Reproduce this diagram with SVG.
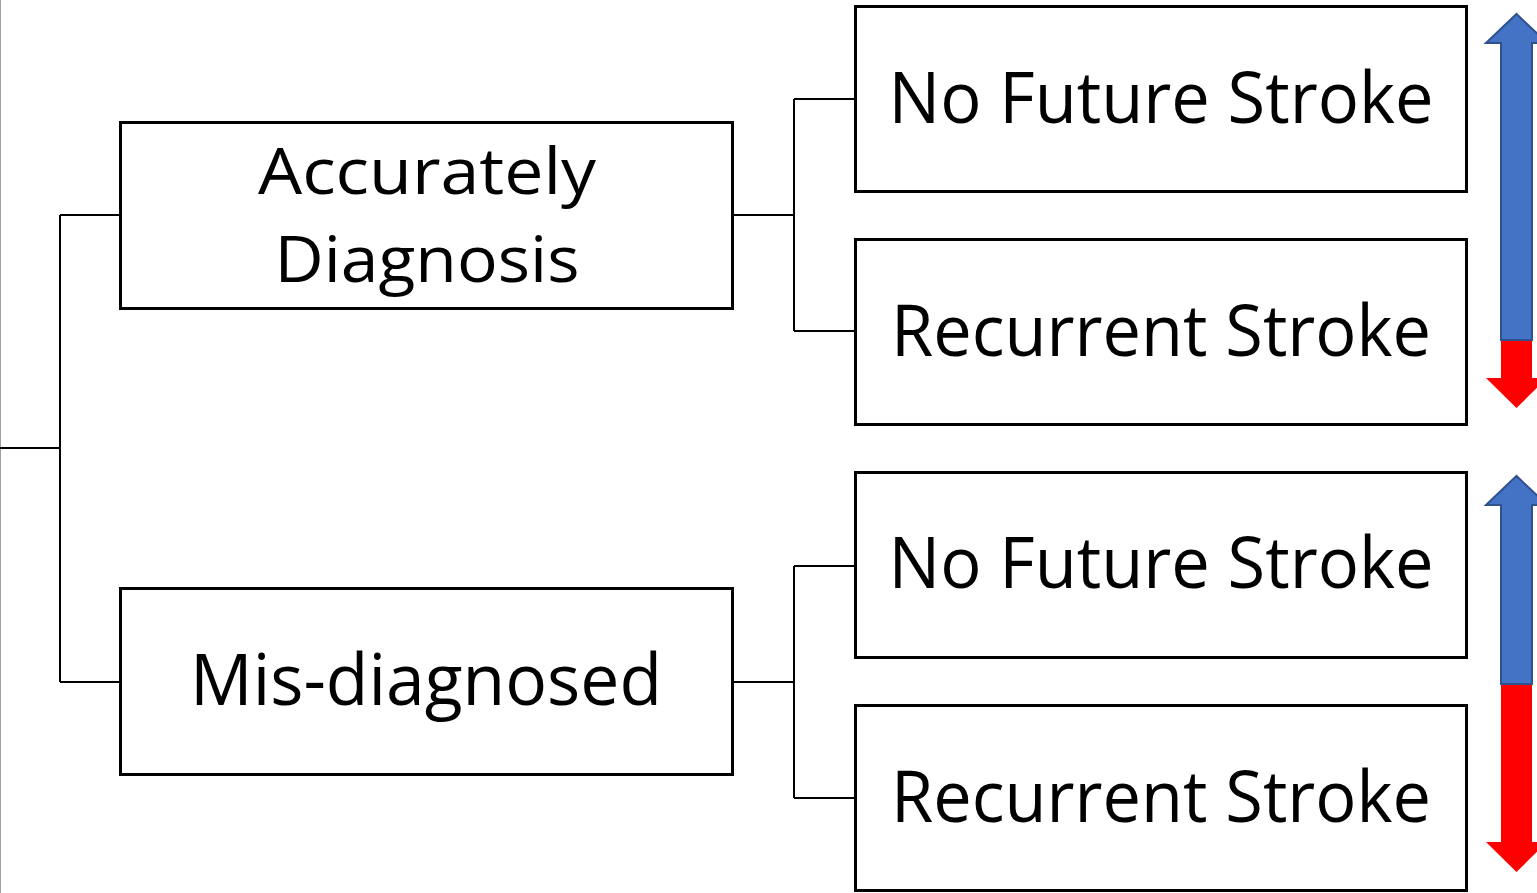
<svg xmlns="http://www.w3.org/2000/svg" width="1537" height="893" viewBox="0 0 1537 893">
<style>
.box{fill:#fff;stroke:#000;stroke-width:3}
.lbl{font-family:"Open Sans","Liberation Sans",sans-serif;font-size:72px;fill:#000;text-anchor:middle}
.sm{font-size:64px}
.conn{fill:none;stroke:#000;stroke-width:2}
.blue{fill:#4472C4;stroke:#2F528F;stroke-width:2}
.red{fill:#FF0000}
</style>
<rect width="1537" height="893" fill="#fff"/>
<line x1="0.5" y1="0" x2="0.5" y2="893" stroke="#a0a0a0" stroke-width="1"/>
<g id="connectors">
<path class="conn" d="M0 448H60M60 215V682M60 215H120M60 682H120"/>
<path class="conn" d="M733 215H794M794 99V331M794 99H855M794 331H855"/>
<path class="conn" d="M733 682H794M794 566V798M794 566H855M794 798H855"/>
</g>
<g id="accurate">
<rect class="box" x="120.5" y="122.5" width="612" height="186"/>
<text class="lbl sm" x="427" y="194" textLength="338" lengthAdjust="spacingAndGlyphs">Accurately</text>
<text class="lbl sm" x="427" y="282" textLength="305" lengthAdjust="spacingAndGlyphs">Diagnosis</text>
</g>
<g id="misdiagnosed">
<rect class="box" x="120.5" y="588.5" width="612" height="186"/>
<text class="lbl" x="426" y="705" textLength="472" lengthAdjust="spacingAndGlyphs">Mis-diagnosed</text>
</g>
<g id="nofuture1">
<rect class="box" x="855.5" y="6.5" width="611" height="185"/>
<text class="lbl" x="1161" y="123" textLength="545" lengthAdjust="spacingAndGlyphs">No Future Stroke</text>
</g>
<g id="recurrent1">
<rect class="box" x="855.5" y="239.5" width="611" height="185"/>
<text class="lbl" x="1161" y="356" textLength="540" lengthAdjust="spacingAndGlyphs">Recurrent Stroke</text>
</g>
<g id="nofuture2">
<rect class="box" x="855.5" y="472.5" width="611" height="185"/>
<text class="lbl" x="1161" y="588" textLength="545" lengthAdjust="spacingAndGlyphs">No Future Stroke</text>
</g>
<g id="recurrent2">
<rect class="box" x="855.5" y="705.5" width="611" height="185"/>
<text class="lbl" x="1161" y="822" textLength="540" lengthAdjust="spacingAndGlyphs">Recurrent Stroke</text>
</g>
<g id="arrow1">
<path class="red" d="M1501 340H1532V378H1547L1516.5 408L1486 378H1501Z"/>
<path class="blue" d="M1501 340V43H1486L1516.5 14L1547 43H1532V340Z"/>
</g>
<g id="arrow2">
<path class="red" d="M1501 684H1532V842H1547L1516.5 872L1486 842H1501Z"/>
<path class="blue" d="M1501 684V505H1486L1516.5 476L1547 505H1532V684Z"/>
</g>
</svg>
